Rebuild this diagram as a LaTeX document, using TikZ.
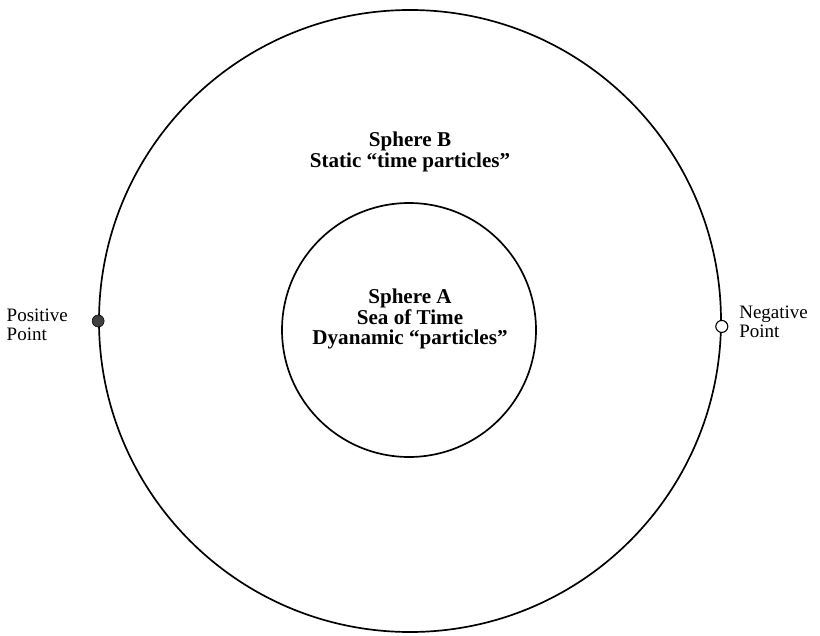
\documentclass[tikz,border=0pt]{standalone}
\usepackage{fontspec}
\setmainfont{Liberation Serif}
\usepackage{tikz}
\usetikzlibrary{positioning}

\begin{document}
\begin{tikzpicture}[x=0.025cm,y=-0.025cm,font=\fontsize{13.5}{13.5}\selectfont]
      \useasboundingbox (0,0) rectangle (820,636);
      \node[circle,draw,line width=1.2pt,minimum size=622*0.025cm,inner sep=0pt] (sphereB) at (410,321) {};
      \node[circle,draw,line width=1.2pt,minimum size=254*0.025cm,inner sep=0pt] (sphereA) at (409,330) {};
      \node[align=center,font=\fontsize{15}{14.5}\selectfont\bfseries] (textB) at (410,152) {Sphere B\\Static ``time particles''};
      \node[align=center,font=\fontsize{15}{14.5}\selectfont\bfseries] (textA) at (410,319) {Sphere A\\Sea of Time\\Dyanamic ``particles''};
      \node[circle,fill=black!75,draw=black,minimum size=12*0.025cm,inner sep=0pt] (pos) at (sphereB.west) {};
      \node[circle,fill=white,draw=black,thick,minimum size=12*0.025cm,inner sep=0pt] (neg) at (sphereB.-1.5) {};
      \node[align=left,left=0.475cm of pos,yshift=-3pt] (poslabel) {Positive\\Point};
      \node[align=left,right=0.15cm of neg,yshift=3pt] (neglabel) {Negative\\Point};
    \end{tikzpicture}
\end{document}
